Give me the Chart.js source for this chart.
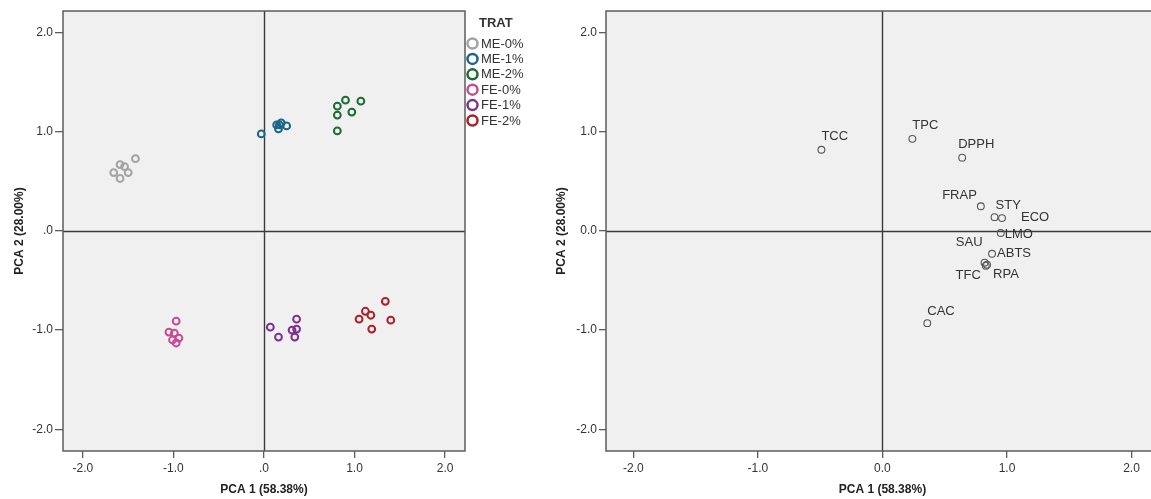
<!DOCTYPE html>
<html>
<head>
<meta charset="utf-8">
<script src="https://cdn.jsdelivr.net/npm/chart.js@4.4.1/dist/chart.umd.min.js"></script>
<style>
  html, body { margin: 0; padding: 0; background: #fff; overflow: hidden; width: 1151px; height: 499px; }
  canvas { position: absolute; top: 0; }
  #scoresChart { left: 0; }
  #loadingsChart { left: 548px; }
</style>
</head>
<body>
<canvas id="scoresChart" width="548" height="499"></canvas>
<canvas id="loadingsChart" width="616" height="499"></canvas>
<script>
// axis ticks
const tickValues = [-2, -1, 0, 1, 2];
const scoreTickLabels = ["-2.0", "-1.0", ".0", "1.0", "2.0"];
const loadingTickLabels = ["-2.0", "-1.0", "0.0", "1.0", "2.0"];
const xTitle = "PCA 1 (58.38%)";
const yTitle = "PCA 2 (28.00%)";

// score plot (left)
const legendTitle = "TRAT";
const treatments = ["ME-0%", "ME-1%", "ME-2%", "FE-0%", "FE-1%", "FE-2%"];
const me0Pc1 = [-1.66, -1.59, -1.54, -1.50, -1.59, -1.42];
const me0Pc2 = [0.59, 0.67, 0.65, 0.59, 0.53, 0.73];
const me1Pc1 = [-0.03, 0.14, 0.19, 0.16, 0.25, 0.17];
const me1Pc2 = [0.98, 1.07, 1.09, 1.03, 1.06, 1.07];
const me2Pc1 = [0.81, 0.90, 1.07, 0.97, 0.81, 0.81];
const me2Pc2 = [1.26, 1.32, 1.31, 1.20, 1.17, 1.01];
const fe0Pc1 = [-0.97, -1.05, -0.99, -0.94, -1.01, -0.97];
const fe0Pc2 = [-0.91, -1.02, -1.03, -1.08, -1.10, -1.13];
const fe1Pc1 = [0.07, 0.16, 0.36, 0.31, 0.36, 0.34];
const fe1Pc2 = [-0.97, -1.07, -0.89, -1.00, -0.99, -1.07];
const fe2Pc1 = [1.34, 1.12, 1.18, 1.05, 1.40, 1.19];
const fe2Pc2 = [-0.71, -0.81, -0.85, -0.89, -0.90, -0.99];

// loading plot (right)
const variables = ["TCC", "TPC", "DPPH", "FRAP", "STY", "ECO", "LMO", "ABTS", "SAU", "TFC", "RPA", "CAC"];
const loadPc1 = [-0.49, 0.24, 0.64, 0.79, 0.90, 0.96, 0.95, 0.88, 0.82, 0.83, 0.84, 0.36];
const loadPc2 = [0.82, 0.93, 0.74, 0.25, 0.14, 0.13, -0.02, -0.23, -0.32, -0.35, -0.34, -0.93];

const groupColors = ["#a3a3a3", "#1c6688", "#1d6a37", "#c94b92", "#7c3290", "#b01f28"];
const FONT = "Arial, 'Liberation Sans', sans-serif";
const TEXT = "#333";

// where each variable name sits relative to its marker
const labelAnchors = {
  TCC: { dx: 0, dy: -13, align: "left" },
  TPC: { dx: 0, dy: -13, align: "left" },
  DPPH: { dx: -4, dy: -13, align: "left" },
  FRAP: { dx: -4, dy: -11, align: "right" },
  STY: { dx: 1, dy: -12, align: "left" },
  ECO: { dx: 19, dy: -1, align: "left" },
  LMO: { dx: 4, dy: 1, align: "left" },
  ABTS: { dx: 5, dy: 0, align: "left" },
  SAU: { dx: -2, dy: -20, align: "right" },
  TFC: { dx: -5, dy: 10, align: "right" },
  RPA: { dx: 6, dy: 10, align: "left" },
  CAC: { dx: 0, dy: -12, align: "left" },
};

function zip(xs, ys) {
  return xs.map((x, i) => ({ x, y: ys[i] }));
}

const plotFrame = {
  id: "plotFrame",
  beforeDraw(chart) {
    const { ctx, chartArea: a } = chart;
    ctx.save();
    ctx.fillStyle = "#f0f0f0";
    ctx.fillRect(a.left, a.top, a.right - a.left, a.bottom - a.top);
    ctx.restore();
  },
  beforeDatasetsDraw(chart) {
    const { ctx, chartArea: a, scales } = chart;
    const x0 = Math.round(scales.x.getPixelForValue(0)) + 0.5;
    const y0 = Math.round(scales.y.getPixelForValue(0)) + 0.5;
    ctx.save();
    ctx.strokeStyle = "#3a3a3a";
    ctx.lineWidth = 1.4;
    ctx.beginPath();
    ctx.moveTo(x0, a.top);
    ctx.lineTo(x0, a.bottom);
    ctx.moveTo(a.left, y0);
    ctx.lineTo(a.right, y0);
    ctx.stroke();
    ctx.restore();
  },
  afterDraw(chart) {
    const { ctx, chartArea: a } = chart;
    ctx.save();
    ctx.strokeStyle = "#5c5c5c";
    ctx.lineWidth = 1.5;
    ctx.strokeRect(a.left, a.top, a.right - a.left, a.bottom - a.top);
    ctx.restore();
  },
};

const treatLegend = {
  id: "treatLegend",
  afterDraw(chart) {
    const { ctx } = chart;
    ctx.save();
    ctx.fillStyle = TEXT;
    ctx.textBaseline = "middle";
    ctx.font = `bold 13px ${FONT}`;
    ctx.fillText(legendTitle, 479, 23);
    ctx.font = `13px ${FONT}`;
    treatments.forEach((name, i) => {
      const y = 43.5 + i * 15.4;
      ctx.strokeStyle = groupColors[i];
      ctx.lineWidth = 2.5;
      ctx.beginPath();
      ctx.arc(472.5, y, 5, 0, Math.PI * 2);
      ctx.stroke();
      ctx.fillStyle = TEXT;
      ctx.fillText(name, 481, y + 0.5);
    });
    ctx.restore();
  },
};

const variableLabels = {
  id: "variableLabels",
  afterDatasetsDraw(chart) {
    const { ctx } = chart;
    const meta = chart.getDatasetMeta(0);
    ctx.save();
    ctx.fillStyle = TEXT;
    ctx.font = `13px ${FONT}`;
    ctx.textBaseline = "middle";
    meta.data.forEach((pt, i) => {
      const a = labelAnchors[variables[i]];
      ctx.textAlign = a.align;
      ctx.fillText(variables[i], pt.x + a.dx, pt.y + a.dy);
    });
    ctx.restore();
  },
};

function axis(labels, extra) {
  return {
    type: "linear",
    min: -2.22,
    max: 2.22,
    afterBuildTicks: (scale) => {
      scale.ticks = tickValues.map((v) => ({ value: v }));
    },
    ticks: {
      color: TEXT,
      font: { family: FONT, size: 12 },
      padding: extra.tickPad,
      maxRotation: 0,
      callback: (value) => labels[tickValues.indexOf(value)],
    },
    grid: {
      drawOnChartArea: false,
      drawTicks: true,
      tickLength: extra.tickLen,
      color: "#5c5c5c",
      lineWidth: 1.3,
    },
    border: { display: false },
    title: {
      display: true,
      text: extra.title,
      color: "#222",
      font: { family: FONT, size: 12, weight: "bold" },
      padding: extra.titlePad,
    },
    afterFit: extra.fit,
  };
}

function options(labels, yWidth, yTitlePad, yTickLen, rightPad) {
  return {
    responsive: false,
    devicePixelRatio: 1,
    animation: false,
    events: [],
    layout: { padding: { top: 11, right: rightPad, bottom: 0, left: 0 } },
    plugins: { legend: { display: false }, tooltip: { enabled: false } },
    scales: {
      x: axis(labels, {
        title: xTitle,
        tickPad: 3,
        tickLen: 7,
        titlePad: { top: 0, bottom: 2 },
        fit: (s) => { s.height = 48; },
      }),
      y: axis(labels, {
        title: yTitle,
        tickPad: 2,
        tickLen: yTickLen,
        titlePad: { top: yTitlePad, bottom: 0 },
        fit: (s) => { s.width = yWidth; },
      }),
    },
  };
}

const groupData = [
  zip(me0Pc1, me0Pc2), zip(me1Pc1, me1Pc2), zip(me2Pc1, me2Pc2),
  zip(fe0Pc1, fe0Pc2), zip(fe1Pc1, fe1Pc2), zip(fe2Pc1, fe2Pc2),
];

new Chart(document.getElementById("scoresChart"), {
  type: "scatter",
  data: {
    datasets: treatments.map((name, i) => ({
      label: name,
      data: groupData[i],
      pointStyle: "circle",
      pointRadius: 3.4,
      borderWidth: 2,
      borderColor: groupColors[i],
      backgroundColor: "rgba(0,0,0,0)",
    })),
  },
  options: options(scoreTickLabels, 63, 12, 8, 83),
  plugins: [plotFrame, treatLegend],
});

new Chart(document.getElementById("loadingsChart"), {
  type: "scatter",
  data: {
    datasets: [{
      label: "Loadings",
      data: zip(loadPc1, loadPc2),
      pointStyle: "circle",
      pointRadius: 3.4,
      borderWidth: 1.1,
      borderColor: "#555",
      backgroundColor: "rgba(0,0,0,0)",
    }],
  },
  options: options(loadingTickLabels, 58, 6, 7, 2),
  plugins: [plotFrame, variableLabels],
});
</script>
</body>
</html>
